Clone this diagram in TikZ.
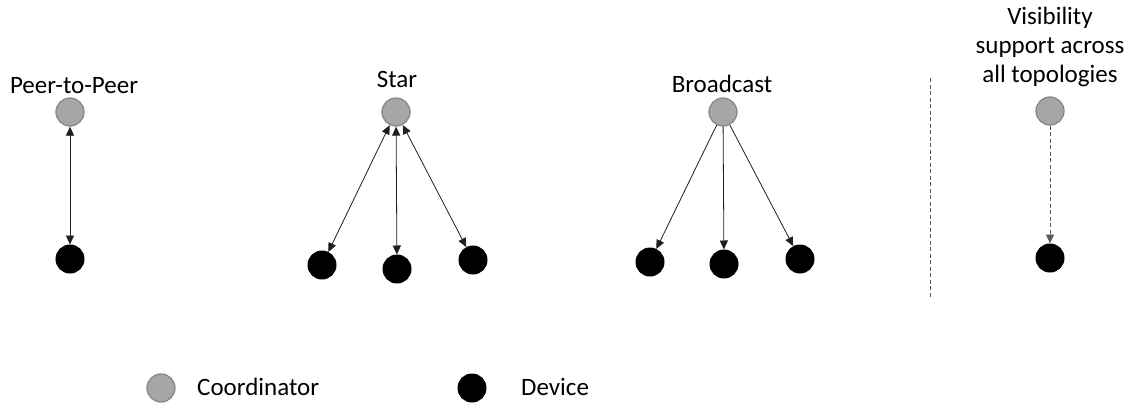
\documentclass[tikz,border=0pt]{standalone}
\usepackage{fontspec}
\setmainfont{Carlito}
\usetikzlibrary{arrows.meta}
\definecolor{coordfill}{RGB}{166,166,166}
\definecolor{coorddraw}{RGB}{137,137,137}
\definecolor{linecol}{RGB}{30,30,30}
\definecolor{sepcol}{RGB}{90,90,90}
\tikzset{
  coordnode/.style={circle,fill=coordfill,draw=coorddraw,line width=1.3pt,minimum size=28pt,inner sep=0pt},
  devnode/.style={circle,fill=black,draw=black,line width=1pt,minimum size=28pt,inner sep=0pt},
  lbl/.style={font=\fontsize{25}{29}\selectfont,align=center,inner sep=0pt},
  conn/.style={draw=linecol,line width=0.8pt,-{Triangle[length=9pt,width=8pt]}},
  biconn/.style={draw=linecol,line width=0.8pt,{Triangle[length=9pt,width=8pt]}-{Triangle[length=9pt,width=8pt]}},
  dconn/.style={draw=sepcol,line width=0.9pt,dash pattern=on 4pt off 2.5pt,-{Triangle[length=9pt,width=8pt]}},
  sep/.style={draw=sepcol,line width=0.9pt,dash pattern=on 4pt off 2.5pt}
}
\begin{document}
\begin{tikzpicture}[x=1pt,y=-1pt]
\useasboundingbox (0,0) rectangle (1141,407);
% Peer-to-peer
\node[lbl] (lp) at (74,86) {Peer-to-Peer};
\node[coordnode] (pc) at (70,112) {};
\node[devnode] (pd) at (70,259) {};
\draw[biconn] (pc) -- (pd);
% Star
\node[lbl] (ls) at (397,79) {Star};
\node[coordnode] (sc) at (396,112) {};
\node[devnode] (sd1) at (322,265) {};
\node[devnode] (sd2) at (397,269) {};
\node[devnode] (sd3) at (473,260) {};
\draw[biconn] (sc) -- (sd1);
\draw[biconn] (sc) -- (sd2);
\draw[biconn] (sc) -- (sd3);
% Broadcast
\node[lbl] (lb) at (722,84) {Broadcast};
\node[coordnode] (bc) at (723,112) {};
\node[devnode] (bd1) at (650,262) {};
\node[devnode] (bd2) at (724,264) {};
\node[devnode] (bd3) at (800,259) {};
\draw[conn] (bc) -- (bd1);
\draw[conn] (bc) -- (bd2);
\draw[conn] (bc) -- (bd3);
% separator
\coordinate (s1) at (930,78);
\coordinate (s2) at (930,297);
\draw[sep] (s1) -- (s2);
% Visibility
\node[lbl] (lv) at (1050,47) {Visibility\\support across\\all topologies};
\node[coordnode] (vc) at (1050,111) {};
\node[devnode] (vd) at (1050,258) {};
\draw[dconn] (vc) -- (vd);
% Legend
\node[coordnode] (lc) at (161,388) {};
\node[lbl,anchor=west] (lct) at (197,387) {Coordinator};
\node[devnode] (ld) at (472,388) {};
\node[lbl,anchor=west] (ldt) at (521,387) {Device};
\end{tikzpicture}
\end{document}
